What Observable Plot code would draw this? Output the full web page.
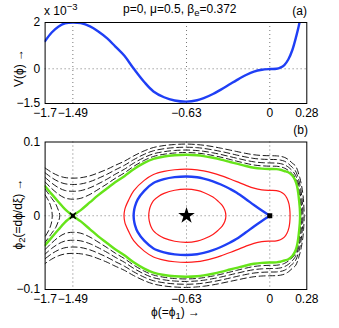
<!DOCTYPE html>
<html><head><meta charset="utf-8">
<script src="https://cdn.jsdelivr.net/npm/d3@7"></script>
<script src="https://cdn.jsdelivr.net/npm/@observablehq/plot@0.6"></script>
<style>
body{margin:0;background:#fff;}
#wrap{position:relative;width:339px;height:328px;font-family:"Liberation Sans",Arial,sans-serif;color:#000;background:#fff;overflow:hidden;}
#wrap svg{position:absolute;left:0;}
.t{position:absolute;white-space:nowrap;font-size:12px;line-height:12px;}
.rot{transform:translate(-50%,-50%) rotate(-90deg);}
.sub{font-size:9.5px;position:relative;top:3px;}
.sup{font-size:9.5px;position:relative;top:-5px;}
</style></head><body><div id="wrap"></div><script>
// ---------- data ----------
const xDomain = [-1.7, 0.28];
const xTicks = [-1.7, -1.49, -0.63, 0, 0.28];
const xTickLabels = ["\u22121.7", "\u22121.49", "\u22120.63", "0", "0.28"];
const gridX = [-1.49, -0.63, 0];
const aYDomain = [-1.5, 2];
const aYTicks = [-1.5, 0, 2];
const aYTickLabels = ["\u22121.5", "0", "2"];
const bYDomain = [-0.1, 0.1];
const bYTicks = [-0.1, 0, 0.1];
const bYTickLabels = ["\u22120.1", "0", "0.1"];

// panel (a): V(phi) in units of 1e-3
const vPhi = [-1.70,-1.65,-1.60,-1.55,-1.49,-1.43,-1.36,-1.30,-1.23,-1.17,-1.10,-1.03,-0.95,-0.88,-0.80,-0.72,-0.63,-0.55,-0.50,-0.43,-0.37,-0.30,-0.25,-0.18,-0.12,-0.06,0.00,0.05,0.08,0.11,0.14,0.17,0.20,0.225,0.235];
const vVal = [1.20,1.57,1.82,1.96,2.00,1.97,1.83,1.62,1.31,0.97,0.56,0.01,-0.57,-0.98,-1.23,-1.37,-1.42,-1.36,-1.27,-1.09,-0.90,-0.66,-0.49,-0.27,-0.12,-0.04,-0.01,0.00,0.05,0.16,0.40,0.80,1.40,2.00,2.35];

// panel (b): upper halves [phi, phi2]
const greenLeft = [[-1.70,.0400],[-1.65,.0293],[-1.60,.0190],[-1.55,.0089]];
const greenRight = [[-1.49,0],[-1.43,.0077],[-1.36,.0184],[-1.30,.0276],[-1.23,.0372],[-1.17,.0454],[-1.10,.0537],[-1.03,.0631],[-0.95,.0717],[-0.88,.0772],[-0.80,.0804],[-0.72,.0821],[-0.63,.0827],[-0.55,.0820],[-0.50,.0809],[-0.43,.0786],[-0.37,.0762],[-0.30,.0729],[-0.25,.0706],[-0.18,.0674],[-0.12,.0651],[-0.06,.0639],[0,.0634],[0.05,.0632],[0.08,.0624],[0.11,.0607],[0.14,.0590],[0.17,.0545],[0.19,.0490],[0.205,.0410],[0.215,.0310],[0.222,.0200],[0.227,.0100],[0.229,0]];
const blueUpper = [[-1.03,0],[-1.028,.0056],[-1.02,.0126],[-1.00,.0219],[-0.95,.0338],[-0.88,.0443],[-0.80,.0496],[-0.72,.0523],[-0.63,.0533],[-0.55,.0522],[-0.50,.0504],[-0.43,.0467],[-0.37,.0424],[-0.30,.0363],[-0.25,.0313],[-0.18,.0225],[-0.12,.0145],[-0.06,.0070],[0,0]];
const redOuter = [[-1.103,0],[-1.097,.0085],[-1.09,.0126],[-1.07,.0205],[-1.03,.0338],[-0.95,.0480],[-0.88,.0559],[-0.80,.0602],[-0.72,.0624],[-0.63,.0632],[-0.55,.0623],[-0.50,.0608],[-0.43,.0578],[-0.37,.0544],[-0.30,.0498],[-0.25,.0463],[-0.18,.0412],[-0.12,.0374],[-0.06,.0352],[0,.0344],[0.05,.0341],[0.08,.0326],[0.11,.0290],[0.13,.0237],[0.145,.0160],[0.151,.0090],[0.1535,0]];
const redInner = [[-0.916,0],[-0.912,.0070],[-0.90,.0141],[-0.88,.0205],[-0.84,.0265],[-0.80,.0303],[-0.72,.0346],[-0.63,.0361],[-0.55,.0344],[-0.50,.0316],[-0.43,.0253],[-0.39,.0195],[-0.36,.0141],[-0.34,.0075],[-0.332,0]];
const dashA = [[-1.70,.0458],[-1.65,.0369],[-1.60,.0293],[-1.55,.0241],[-1.49,.0224],[-1.43,.0237],[-1.36,.0290],[-1.30,.0355],[-1.23,.0434],[-1.17,.0506],[-1.10,.0581],[-1.03,.0669],[-0.95,.0751],[-0.88,.0804],[-0.80,.0834],[-0.72,.0851],[-0.63,.0857],[-0.55,.0850],[-0.50,.0839],[-0.43,.0817],[-0.37,.0794],[-0.30,.0763],[-0.25,.0740],[-0.18,.0710],[-0.12,.0688],[-0.06,.0677],[0,.0672],[0.05,.0671],[0.08,.0663],[0.11,.0647],[0.14,.0615],[0.17,.0570],[0.19,.0525],[0.205,.0460],[0.217,.0375],[0.226,.0270],[0.232,.0150],[0.235,0]];
const dashB = [[-1.70,.0520],[-1.65,.0443],[-1.60,.0382],[-1.55,.0343],[-1.49,.0332],[-1.43,.0341],[-1.36,.0380],[-1.30,.0431],[-1.23,.0498],[-1.17,.0562],[-1.10,.0631],[-1.03,.0713],[-0.95,.0790],[-0.88,.0840],[-0.80,.0869],[-0.72,.0885],[-0.63,.0891],[-0.55,.0884],[-0.50,.0874],[-0.43,.0853],[-0.37,.0831],[-0.30,.0801],[-0.25,.0780],[-0.18,.0751],[-0.12,.0731],[-0.06,.0720],[0,.0716],[0.05,.0714],[0.08,.0707],[0.11,.0691],[0.14,.0660],[0.17,.0610],[0.19,.0565],[0.205,.0505],[0.218,.0430],[0.229,.0330],[0.237,.0200],[0.241,.0100],[0.243,0]];
const dashC = [[-1.70,.0583],[-1.65,.0516],[-1.60,.0465],[-1.55,.0434],[-1.49,.0424],[-1.43,.0431],[-1.36,.0463],[-1.30,.0506],[-1.23,.0564],[-1.17,.0621],[-1.10,.0684],[-1.03,.0760],[-0.95,.0833],[-0.88,.0881],[-0.80,.0909],[-0.72,.0924],[-0.63,.0929],[-0.55,.0923],[-0.50,.0913],[-0.43,.0893],[-0.37,.0872],[-0.30,.0844],[-0.25,.0823],[-0.18,.0796],[-0.12,.0777],[-0.06,.0767],[0,.0763],[0.05,.0762],[0.08,.0755],[0.11,.0740],[0.14,.0707],[0.17,.0656],[0.19,.0620],[0.205,.0565],[0.22,.0480],[0.232,.0390],[0.242,.0260],[0.248,.0140],[0.251,0]];
const dashD = [[-1.70,.0648],[-1.65,.0588],[-1.60,.0544],[-1.55,.0518],[-1.49,.0510],[-1.43,.0516],[-1.36,.0542],[-1.30,.0580],[-1.23,.0631],[-1.17,.0683],[-1.10,.0740],[-1.03,.0811],[-0.95,.0880],[-0.88,.0925],[-0.80,.0952],[-0.72,.0966],[-0.63,.0972],[-0.55,.0965],[-0.50,.0956],[-0.43,.0937],[-0.37,.0916],[-0.30,.0890],[-0.25,.0871],[-0.18,.0845],[-0.12,.0827],[-0.06,.0817],[0,.0814],[0.05,.0812],[0.08,.0806],[0.11,.0792],[0.14,.0762],[0.17,.0714],[0.194,.0678],[0.21,.0616],[0.22,.0557],[0.228,.0510],[0.24,.0412],[0.25,.0300],[0.256,.0180],[0.26,0]];
const dashL1 = [[-1.70,.0361],[-1.65,.0237],[-1.62,.0161],[-1.60,.0077],[-1.595,.0057],[-1.589,0]];
const dashL2 = [[-1.70,.0283],[-1.67,.0190],[-1.655,.0116],[-1.65,.0077],[-1.646,0]];
const fixedPoints = {star: [-0.63, 0], square: [0, 0], saddle: [-1.49, 0]};

// ---------- helpers ----------
const mirror = pts => pts.map(([x, y]) => [x, -y]);
const openOrbit = up => up.concat(mirror(up).slice(0, -1).reverse());
const closedOrbit = up => up.concat(mirror(up).slice(1, -1).reverse());
const greenPath = greenLeft.concat(mirror(greenRight), greenRight.slice(0, -1).reverse(), mirror(greenLeft).reverse());
const bluePath = blueUpper.slice().reverse().concat(mirror(blueUpper).slice(1));
const rows = (pts, id) => pts.map(([x, y]) => ({x, y, id}));
const dashed = [].concat(rows(openOrbit(dashA), "a"), rows(openOrbit(dashB), "b"), rows(openOrbit(dashC), "c"), rows(openOrbit(dashD), "d"), rows(openOrbit(dashL1), "l1"), rows(openOrbit(dashL2), "l2"));
const reds = [].concat(rows(closedOrbit(redOuter), "o"), rows(closedOrbit(redInner), "i"));
const fmt = (ticks, labels) => d => labels[ticks.indexOf(d)];

const BLUE = "#1f3ff5", GREEN = "#66e41a", RED = "#ff1a1a";
const style = {fontSize: "12px", fontFamily: "Liberation Sans, Arial, sans-serif", color: "#000", background: "transparent"};
const grid = [
  Plot.ruleX(gridX, {stroke: "#777", strokeDasharray: "1,3", strokeWidth: 1}),
  Plot.ruleY([0], {stroke: "#777", strokeDasharray: "1,3", strokeWidth: 1})
];

const pa = Plot.plot({
  width: 339, height: 125, marginLeft: 44.6, marginRight: 32.7, marginTop: 22, marginBottom: 22,
  x: {domain: xDomain}, y: {domain: aYDomain}, style,
  marks: [
    ...grid,
    Plot.line(vPhi.map((p, i) => ({p, v: vVal[i]})), {x: "p", y: "v", stroke: BLUE, strokeWidth: 2.4, curve: "catmull-rom", clip: true}),
    Plot.frame({stroke: "#000", strokeWidth: 1}),
    Plot.axisX(xTicks, {tickSize: 0, tickPadding: 5, tickFormat: fmt(xTicks, xTickLabels), label: null}),
    Plot.axisY(aYTicks, {tickSize: 0, tickPadding: 5, tickFormat: fmt(aYTicks, aYTickLabels), label: null})
  ]
});
pa.style.top = "0px";

const pb = Plot.plot({
  width: 339, height: 208, marginLeft: 44.6, marginRight: 32.7, marginTop: 21.5, marginBottom: 39,
  x: {domain: xDomain}, y: {domain: bYDomain}, style,
  marks: [
    ...grid,
    Plot.line(dashed, {x: "x", y: "y", z: "id", stroke: "#000", strokeWidth: 0.9, strokeDasharray: "6,3.5", curve: "catmull-rom", clip: true}),
    Plot.line(reds, {x: "x", y: "y", z: "id", stroke: RED, strokeWidth: 1.2, curve: "catmull-rom-closed", clip: true}),
    Plot.line(rows(bluePath, "blue"), {x: "x", y: "y", stroke: BLUE, strokeWidth: 2.4, curve: "catmull-rom", clip: true}),
    Plot.line(rows(greenPath, "green"), {x: "x", y: "y", stroke: GREEN, strokeWidth: 2.4, curve: "catmull-rom", clip: true}),
    Plot.dot([fixedPoints.star], {x: d => d[0], y: d => d[1], symbol: "star", fill: "#000", r: 5.2}),
    Plot.dot([fixedPoints.square], {x: d => d[0], y: d => d[1], symbol: "square", fill: "#000", r: 2.8}),
    Plot.dot([fixedPoints.saddle], {x: d => d[0], y: d => d[1], symbol: "square", fill: "#000", r: 2.2}),
    Plot.dot([fixedPoints.saddle], {x: d => d[0], y: d => d[1], symbol: "times", stroke: "#000", strokeWidth: 1.5, r: 2.8}),
    Plot.frame({stroke: "#000", strokeWidth: 1}),
    Plot.axisX(xTicks, {tickSize: 0, tickPadding: 5, tickFormat: fmt(xTicks, xTickLabels), label: null}),
    Plot.axisY(bYTicks, {tickSize: 0, tickPadding: 5, tickFormat: fmt(bYTicks, bYTickLabels), label: null})
  ]
});
pb.style.top = "120px";

const wrap = document.getElementById("wrap");
wrap.appendChild(pa);
wrap.appendChild(pb);

function addText(html, css, cls) {
  const d = document.createElement("div");
  d.className = "t" + (cls ? " " + cls : "");
  d.innerHTML = html;
  Object.assign(d.style, css);
  wrap.appendChild(d);
}
addText("p=0, \u03bc=0.5, \u03b2<span class='sub'>e</span>=0.372", {left: "123px", top: "3px"});
addText("x 10<span class='sup'>\u22123</span>", {left: "44px", top: "5px"});
addText("(a)", {right: "32px", top: "5px"});
addText("(b)", {right: "31px", top: "124px"});
addText("V(\u03d5) \u2192", {left: "19px", top: "68px"}, "rot");
addText("\u03d5<span class='sub'>2</span>(=d\u03d5/d\u03be) \u2192", {left: "18px", top: "214px"}, "rot");
addText("\u03d5(=\u03d5<span class='sub'>1</span>) \u2192", {left: "151px", top: "306px"});
</script></body></html>
